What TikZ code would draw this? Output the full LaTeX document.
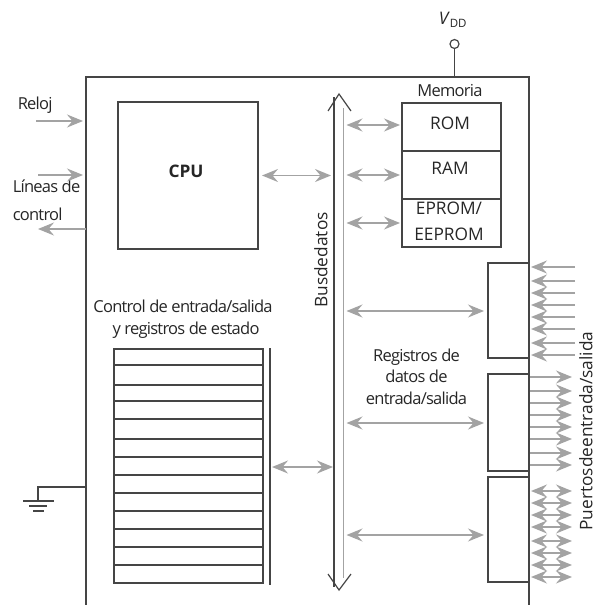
\documentclass[tikz,border=0pt]{standalone}
\usepackage{fontspec}
\setmainfont{Open Sans}[LetterSpace=-4.5]
\newfontfamily\capsfont{Open Sans}
\usepackage{tikz}
\usetikzlibrary{arrows.meta,positioning}
\definecolor{linegray}{HTML}{454545}
\definecolor{arrowgray}{HTML}{A3A3A3}
\newcommand{\arrowtip}{Stealth[length=16pt,width=13pt,inset=5.5pt]}

\begin{document}
\begin{tikzpicture}[
    x=1pt, y=-1pt,
    node distance=0pt,
    line width=1.5pt,
    color=linegray,
    text=black!85,
    font=\fontsize{16.5}{18}\selectfont,
    boxnode/.style={draw=linegray, outer sep=0pt, inner sep=0pt},
    memblock/.style={boxnode, minimum width=99pt, minimum height=48pt},
    portblock/.style={boxnode, minimum width=41pt},
    txt/.style={inner sep=0pt, align=center},
    capstxt/.style={txt, font=\capsfont\fontsize{17.3}{26}\selectfont},
    sig/.style={draw=arrowgray, line width=1.6pt},
    sigin/.style={sig, -{\arrowtip}},
    sigboth/.style={sig, {\arrowtip}-{\arrowtip}}
  ]
    \useasboundingbox (0,0) rectangle (596,605);

    % chip outline
    \coordinate (chipTL) at (86,77);
    \coordinate (chipTR) at (529,77);
    \coordinate (chipBL) at (86,605);
    \coordinate (chipBR) at (529,605);
    \draw (chipBL) -- (chipTL) -- (chipTR) -- (chipBR);

    % supply
    \node[draw=linegray, circle, minimum size=9pt, inner sep=0pt, line width=1.2pt, outer sep=0pt] (vdd) at (454.5,44) {};
    \draw (vdd.south) -- (vdd.south |- chipTR);
    \node[capstxt, anchor=base west] (vddtxt) at (438,24) {\textit{V}\raisebox{-3pt}{\fontsize{11.5}{12}\selectfont DD}};

    % cpu
    \node[boxnode, minimum width=140pt, minimum height=147pt] (cpu) at (188,175.5) {};
    \node[capstxt] (cputxt) at (186,171) {\textbf{CPU}};

    % memory stack
    \node[memblock] (rom) at (451.5,127) {};
    \node[memblock, below=of rom] (ram) {};
    \node[memblock, below=of ram] (eprom) {};
    \node[txt] (memtxt) at (450,91) {Memoria};
    \node[capstxt] (romtxt) at (450,123) {ROM};
    \node[capstxt] (ramtxt) at (450,168) {RAM};
    \node[capstxt] (epromtxt) at (449,221) {EPROM/\\EEPROM};

    % bus
    \coordinate (busLtop) at (334,97);
    \coordinate (busLbot) at (334,587);
    \coordinate (busR) at (343.5,108);
    \coordinate (busRbot) at (343.5,578);
    \coordinate (bustip) at (339,94);
    \coordinate (bustipb) at (339,590);
    \draw (busLtop) -- (busLbot);
    \draw[draw=arrowgray] (busR) -- (busRbot);
    \draw[line width=1.2pt] (328,111) -- (bustip) -- (351,111);
    \draw[line width=1.2pt] (328,574) -- (bustipb) -- (351,574);
    \node[capstxt, rotate=90] (bustxt) at (321,260) {Busdedatos};

    % side labels
    \node[txt, anchor=west] (reloj) at (17,105) {Reloj};
    \node[txt, anchor=west] (lineas) at (12,186) {Líneas de};
    \node[txt, anchor=west] (control) at (12,214) {control};
    \coordinate (relojA) at (36,121);
    \coordinate (ctlA) at (38,175);
    \coordinate (ctlB) at (38,229);
    \draw[sigin] (relojA) -- ([xshift=-3pt]relojA -| chipTL);
    \draw[sigin] (ctlA) -- ([xshift=-3pt]ctlA -| chipTL);
    \draw[sigin] (ctlB -| chipTL) -- (ctlB);

    % status registers
    \node[txt] (ctrltxt) at (183,306.5) {Control de entrada/salida};
    \node[txt] (regtxt) at (186,330) {y registros de estado};
    \node[boxnode, minimum width=149pt, minimum height=234pt] (regs) at (188.5,466) {};
    \foreach \rowy in {365,385,401,419,439,457,475,493,511,529,547,565}
      \draw (regs.west |- 0,\rowy) -- (regs.east |- 0,\rowy);
    \coordinate (regbarT) at (270,348);
    \coordinate (regbarB) at (270,585);
    \draw (regbarT) -- (regbarB);
    \draw[sigboth] ([xshift=2pt]regbarT |- 0,467) -- ([xshift=-1pt]busLtop |- 0,467);

    % ground
    \coordinate (gndtop) at (38,487);
    \coordinate (gnd) at (38,501);
    \draw (gndtop -| chipTL) -- (gndtop) -- (gnd);
    \draw (23,501) -- (54,501);
    \draw (29,506) -- (47,506);
    \draw (33,511) -- (44,511);

    % bus to blocks
    \draw[sigboth] ([xshift=4pt]cpu.east) -- ([xshift=-3pt]busLtop |- cpu);
    \draw[sigboth] ([xshift=3pt]busR |- 0,125) -- ([xshift=-2pt]rom.west |- 0,125);
    \draw[sigboth] ([xshift=3pt]busR |- ram.west) -- ([xshift=-2pt]ram.west);
    \draw[sigboth] ([xshift=3pt]busR |- 0,223) -- ([xshift=-2pt]eprom.west |- 0,223);

    % io ports
    \node[portblock, minimum height=95pt] (portA) at (508.5,310.5) {};
    \node[portblock, minimum height=97pt] (portB) at (508.5,422.5) {};
    \node[portblock, minimum height=105pt] (portC) at (508.5,529.5) {};
    \foreach \portname/\lvl in {portA/311,portB/423,portC/535}
      \draw[sigboth] ([xshift=3pt]busR |- 0,\lvl) -- ([xshift=-4pt]\portname.west |- 0,\lvl);
    \foreach \lvl in {267,281,293,305,317,329,343,355}
      \draw[sigin] (575,\lvl) -- (531,\lvl);
    \foreach \lvl in {377,391,403,415,427,439,453,465}
      \draw[sigin] (530,\lvl) -- (572,\lvl);
    \foreach \lvl in {491,503,515,527,541,553,565,577}
      \draw[sigboth] (531,\lvl) -- (572,\lvl);
    \node[txt, font=\fontsize{16.5}{21.5}\selectfont] (datatxt) at (416.5,376.5) {Registros de\\datos de\\entrada/salida};
    \node[capstxt, rotate=90] (porttxt) at (586,431) {Puertosdeentrada/salida};
  \end{tikzpicture}
\end{document}
